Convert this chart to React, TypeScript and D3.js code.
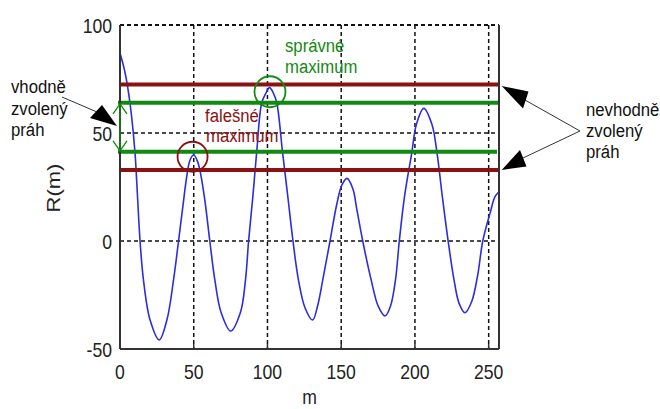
import React from 'react';
import * as d3 from 'd3';

// values (m, R(m))
const mValues = [0, 3.4, 6.8, 10.2, 11.3, 13.6, 15.9, 20.4, 26.6, 31.8, 36.3, 39.7, 42.8, 45.4, 47.5, 50,
  52.5, 54.7, 57.5, 60.9, 64.3, 68.5, 75, 81.7, 85.1, 87.2, 90, 92.7, 96.1, 98.6, 101.4,
  104, 106.3, 110.2, 113.8, 117.3, 121, 125.5, 130.6, 134, 137.5, 142.4, 147, 150.5, 154,
  158, 160.5, 164.6, 170.3, 175, 179.8, 183.5, 186.8, 189.4, 193, 197.8, 201, 206,
  211.5, 215, 218.5, 222.5, 226.5, 230, 233.9, 238.5, 242.5, 246, 250.9, 254.3, 257];
const rValues = [87, 78, 63.7, 40.6, 28, 0, -18, -36.6, -45.8, -36.6, -18, 0, 17, 30.5, 37.5, 39.8,
  37, 31, 19, 0, -18, -33, -41.7, -33, -18, 0, 20, 41.3, 64, 68, 71,
  68.5, 64, 41.3, 20.5, 0, -18, -31, -36.6, -30, -18, 0, 17, 26, 29,
  24, 15, 0, -18, -30, -34.7, -30, -18, 0, 21, 40.6, 54, 61.4,
  54, 40.6, 21, 0, -18, -29, -33.2, -28, -16, 0, 12.8, 20.5, 22.8];

const xTicks = [0, 50, 100, 150, 200, 250];
const yTicks = [-50, 0, 50, 100];
const badThresholds = [72.5, 32.9];   // nevhodně zvolený práh
const goodThresholds = [64, 41.3];    // vhodně zvolený práh
const trueMax = { m: 101.7, r: 69.1 };
const falseMax = { m: 49.2, r: 39 };

const RED = '#8b1212';
const GREEN = '#128a12';
const FONT = '"Liberation Sans", Arial, sans-serif';

function Label(props: { x: number; y: number; text: string; fill?: string; size?: number; anchor?: string }) {
  const { x, y, text, fill = '#111', size = 19, anchor = 'start' } = props;
  return (
    <text transform={`translate(${x},${y}) scale(0.88,1)`} fontSize={size} fontFamily={FONT}
      fill={fill} textAnchor={anchor}>{text}</text>
  );
}

export default function App() {
  const width = 660, height = 409;
  const x = d3.scaleLinear().domain([0, 257]).range([120, 499]);
  const y = d3.scaleLinear().domain([-50, 100]).range([349, 25]);

  const data = mValues.map((m, i) => ({ m, r: rValues[i] }));
  const line = d3.line<{ m: number; r: number }>()
    .x(d => x(d.m))
    .y(d => y(d.r))
    .curve(d3.curveCatmullRom.alpha(0.5));

  const arrowX = x(0);
  const gTop = y(goodThresholds[0]), gBot = y(goodThresholds[1]);

  return (
    <svg width={width} height={height} style={{ position: 'absolute', left: 0, top: 0, background: '#fff' }}>
      {/* grid */}
      {xTicks.filter(t => t > 0).map(t => (
        <line key={'gx' + t} x1={x(t)} x2={x(t)} y1={y(100)} y2={y(-50)} stroke="#111" strokeWidth={1.5} strokeDasharray="4,3" />
      ))}
      {yTicks.filter(t => t > -50).map(t => (
        <line key={'gy' + t} x1={x(0)} x2={x(257)} y1={y(t)} y2={y(t)} stroke="#111" strokeWidth={t === 100 ? 2 : 1.5} strokeDasharray="4,3" />
      ))}

      {/* curve */}
      <path d={line(data) || ''} fill="none" stroke="#2d2ddb" strokeWidth={1.6} />

      {/* thresholds */}
      {badThresholds.map(v => (
        <line key={'b' + v} x1={x(0)} x2={x(257) + 1} y1={y(v)} y2={y(v)} stroke={RED} strokeWidth={4} />
      ))}
      <line x1={x(0) - 2} x2={x(257) + 1} y1={gTop} y2={gTop} stroke={GREEN} strokeWidth={4} />
      <line x1={x(0) - 2} x2={x(257) - 2} y1={gBot} y2={gBot} stroke={GREEN} strokeWidth={4} />

      {/* axes */}
      <line x1={x(0)} x2={x(0)} y1={y(100)} y2={y(-50)} stroke="#333" strokeWidth={2} />
      <line x1={x(0)} x2={x(257)} y1={y(-50)} y2={y(-50)} stroke="#333" strokeWidth={2} />
      <line x1={x(257)} x2={x(257)} y1={y(100)} y2={y(-50)} stroke="#333" strokeWidth={2} />
      {xTicks.map(t => (
        <line key={'tx' + t} x1={x(t)} x2={x(t)} y1={y(-50)} y2={y(-50) - 5} stroke="#333" strokeWidth={1.5} />
      ))}

      {/* tick labels */}
      {xTicks.map(t => (
        <Label key={'lx' + t} x={x(t)} y={379} text={String(t)} size={20} anchor="middle" fill="#222" />
      ))}
      {yTicks.map(t => (
        <Label key={'ly' + t} x={112} y={y(t) + 8} text={String(t)} size={20} anchor="end" fill="#222" />
      ))}
      <Label x={(x(0) + x(257)) / 2} y={404} text="m" size={20} anchor="middle" fill="#222" />
      <text transform="translate(60,188) rotate(-90) scale(1.1,0.88)" fontSize={20} fontFamily={FONT}
        fill="#222" textAnchor="middle">R(m)</text>

      {/* circled maxima */}
      <circle cx={x(trueMax.m)} cy={y(trueMax.r)} r={15.5} fill="none" stroke={GREEN} strokeWidth={1.8} />
      <circle cx={x(falseMax.m)} cy={y(falseMax.r)} r={15} fill="none" stroke={RED} strokeWidth={1.8} />

      {/* double arrow for the good threshold */}
      <g stroke={GREEN} strokeWidth={1.3} fill="none">
        <line x1={arrowX} x2={arrowX} y1={gTop} y2={gBot} />
        <polyline points={`${arrowX - 7},${gTop + 11} ${arrowX},${gTop + 1} ${arrowX + 7},${gTop + 11}`} />
        <polyline points={`${arrowX - 7},${gBot - 11} ${arrowX},${gBot - 1} ${arrowX + 7},${gBot - 11}`} />
      </g>

      {/* annotations */}
      <Label x={285} y={52} text="správné" fill={GREEN} />
      <Label x={285} y={73} text="maximum" fill={GREEN} />
      <Label x={205} y={122} text="falešné" fill={RED} />
      <Label x={206} y={142} text="maximum" fill={RED} />

      <Label x={11} y={93} text="vhodně" />
      <Label x={11} y={115} text="zvolený" />
      <Label x={11} y={136} text="práh" />
      <line x1={62} y1={97} x2={97} y2={112} stroke="#333" strokeWidth={1} />
      <polygon points="90,118 102,105 117,126" fill="#000" />

      <Label x={586} y={116} text="nevhodně" />
      <Label x={586} y={137} text="zvolený" />
      <Label x={586} y={158} text="práh" />
      <line x1={580} y1={131} x2={525} y2={100} stroke="#333" strokeWidth={1} />
      <line x1={580} y1={131} x2={523} y2={158} stroke="#333" strokeWidth={1} />
      <polygon points="501.7,86 528.5,91.5 523,108.5" fill="#000" />
      <polygon points="501.7,170 520,150 526.5,166.5" fill="#000" />
    </svg>
  );
}
